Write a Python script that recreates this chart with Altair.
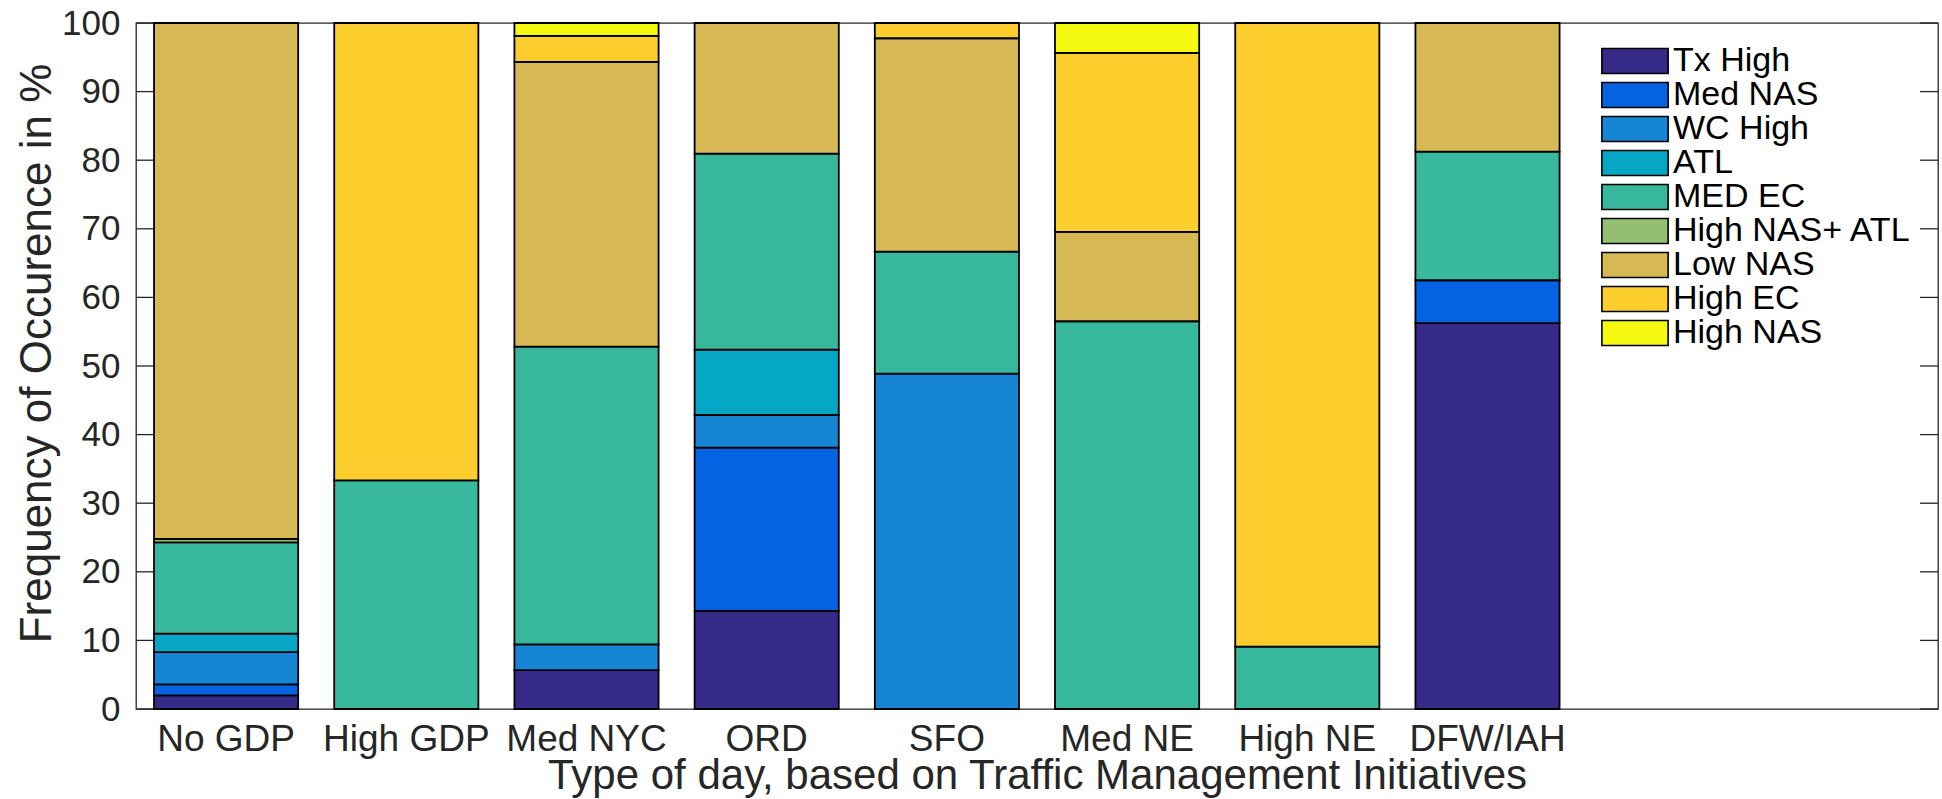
import altair as alt
import pandas as pd

# Day types (x categories) and two empty slots that keep the right margin free for the legend
categories = ["No GDP", "High GDP", "Med NYC", "ORD", "SFO", "Med NE", "High NE", "DFW/IAH"]
spare_slots = ["_9", "_10"]

# Weather/NAS pattern classes, bottom to top of each stack
series = ["Tx High", "Med NAS", "WC High", "ATL", "MED EC",
          "High NAS+ ATL", "Low NAS", "High EC", "High NAS"]
colors = ["#352a87", "#0562e0", "#1685d4", "#05a6c6", "#38b99e",
          "#94bf73", "#d6b955", "#fbcd2d", "#f5f90f"]

# Frequency of occurrence (%) of each class per day type
tx_high      = [2.0, 0.0, 5.66, 14.29, 0.0, 0.0, 0.0, 56.25]
med_nas      = [1.6, 0.0, 0.0, 23.81, 0.0, 0.0, 0.0, 6.25]
wc_high      = [4.7, 0.0, 3.77, 4.76, 48.89, 0.0, 0.0, 0.0]
atl          = [2.7, 0.0, 0.0, 9.52, 0.0, 0.0, 0.0, 0.0]
med_ec       = [13.3, 33.33, 43.40, 28.57, 17.78, 56.52, 9.09, 18.75]
high_nas_atl = [0.5, 0.0, 0.0, 0.0, 0.0, 0.0, 0.0, 0.0]
low_nas      = [75.2, 0.0, 41.51, 19.05, 31.11, 13.04, 0.0, 18.75]
high_ec      = [0.0, 66.67, 3.77, 0.0, 2.22, 26.09, 90.91, 0.0]
high_nas     = [0.0, 0.0, 1.89, 0.0, 0.0, 4.35, 0.0, 0.0]

y_ticks = [0, 10, 20, 30, 40, 50, 60, 70, 80, 90, 100]

values_by_series = [tx_high, med_nas, wc_high, atl, med_ec,
                    high_nas_atl, low_nas, high_ec, high_nas]

rows = []
for s_idx, (name, vals) in enumerate(zip(series, values_by_series)):
    for cat, v in zip(categories, vals):
        if v > 0:
            rows.append({"day": cat, "cls": name, "pct": v, "order": s_idx})
df = pd.DataFrame(rows)
ticks_df = pd.DataFrame({"tick": y_ticks})

FONT = "Liberation Sans"
INK = "#262626"
PLOT_W, PLOT_H = 1802, 686
TICK_LEN = 18

y_scale = alt.Scale(domain=[0, 100], nice=False)

# Inward-pointing tick marks on the left and right frame edges
left_ticks = alt.Chart(ticks_df).mark_rule(color=INK, strokeWidth=1.3).encode(
    y=alt.Y("tick:Q", scale=y_scale),
    x=alt.value(0), x2=alt.value(TICK_LEN),
)
right_ticks = alt.Chart(ticks_df).mark_rule(color=INK, strokeWidth=1.3).encode(
    y=alt.Y("tick:Q", scale=y_scale),
    x=alt.value(PLOT_W - TICK_LEN), x2=alt.value(PLOT_W),
)

# Wide, flat legend swatch: nominal symbol box is 25 px, the path spans 2.65x that horizontally
symbol_path = "M-2.65,-1H2.65V1H-2.65Z"

bars = alt.Chart(df).mark_bar(stroke="black", strokeWidth=1.8, opacity=1).encode(
    x=alt.X(
        "day:N",
        scale=alt.Scale(domain=categories + spare_slots, paddingInner=0.2, paddingOuter=0.1),
        axis=alt.Axis(
            title="Type of day, based on Traffic Management Initiatives",
            labelAngle=0, labelFont=FONT, labelFontSize=37, labelColor=INK,
            labelPadding=12, ticks=False, domain=False,
            labelExpr="substring(datum.value, 0, 1) == '_' ? '' : datum.value",
            titleFont=FONT, titleFontSize=42, titleFontWeight="normal", titleColor=INK,
            titleX=PLOT_W / 2, titleY=79, titleAlign="center", titleBaseline="alphabetic",
        ),
    ),
    y=alt.Y(
        "pct:Q",
        stack="zero",
        scale=y_scale,
        axis=alt.Axis(
            title="Frequency of Occurence in %",
            values=y_ticks, labelFont=FONT, labelFontSize=35, labelColor=INK,
            labelPadding=16, ticks=False, domain=False, grid=False,
            titleFont=FONT, titleFontSize=44, titleFontWeight="normal", titleColor=INK,
            titleX=-86, titleY=330, titleAlign="center", titleBaseline="alphabetic",
            titleAngle=270,
        ),
    ),
    color=alt.Color(
        "cls:N",
        scale=alt.Scale(domain=series, range=colors),
        legend=alt.Legend(
            title=None, orient="none", legendX=1482, legendY=21,
            symbolType=symbol_path, symbolSize=625,
            symbolStrokeColor="black", symbolStrokeWidth=1.6, symbolOpacity=1,
            labelFont=FONT, labelFontSize=34, labelColor="black",
            labelOffset=21, rowPadding=0, padding=0, labelLimit=400,
        ),
    ),
    order=alt.Order("order:Q", sort="ascending"),
)

chart = alt.layer(left_ticks, right_ticks, bars).properties(
    width=PLOT_W,
    height=PLOT_H,
    autosize=alt.AutoSizeParams(type="none"),
    padding={"left": 136, "top": 23, "right": 4, "bottom": 90},
    background="white",
).configure_view(
    stroke=INK, strokeWidth=1.3,
)

chart.save("out.html", embed_options={"renderer": "svg", "actions": False})
